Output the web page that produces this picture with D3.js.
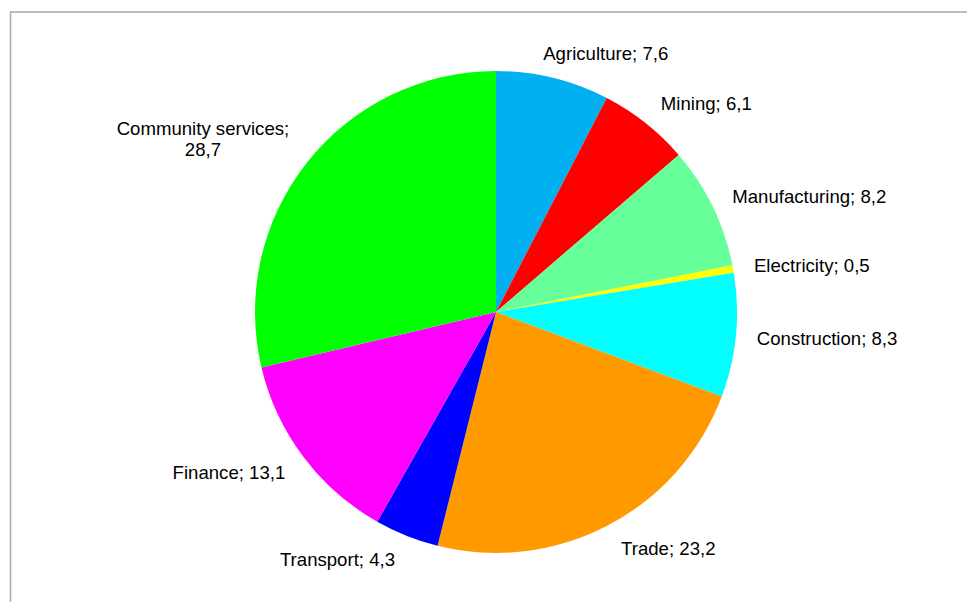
<!DOCTYPE html>
<html>
<head>
<meta charset="utf-8">
<script src="https://cdn.jsdelivr.net/npm/d3@7"></script>
<style>
  html, body { margin: 0; padding: 0; background: #fff; }
  svg { display: block; }
</style>
</head>
<body>
<svg id="chart" width="967" height="602"></svg>
<script>
// Sector shares of the economy, percent
const sectors = ["Agriculture", "Mining", "Manufacturing", "Electricity", "Construction",
                 "Trade", "Transport", "Finance", "Community services"];
const shares  = [7.6, 6.1, 8.2, 0.5, 8.3, 23.2, 4.3, 13.1, 28.7];
const labelText = ["7,6", "6,1", "8,2", "0,5", "8,3", "23,2", "4,3", "13,1", "28,7"];
const sliceColors = ["#00B0F0", "#FF0000", "#66FF99", "#FFFF00", "#00FFFF",
                     "#FF9900", "#0000FF", "#FF00FF", "#00FF00"];

const svg = d3.select("#chart");
const W = 967, H = 602;
const cx = 496, cy = 312, radius = 241;

// frame lines along the top and left edges
svg.append("path")
  .attr("d", `M10.5,${H} L10.5,12 L${W},12`)
  .attr("fill", "none")
  .attr("stroke", "#a8a8a8")
  .attr("stroke-width", 1.5);

const rows = sectors.map((s, i) => ({ name: s, value: shares[i], text: labelText[i], color: sliceColors[i] }));

const pie = d3.pie().sort(null).value(d => d.value);
const arc = d3.arc().innerRadius(0).outerRadius(radius);
const arcs = pie(rows);

const g = svg.append("g").attr("transform", `translate(${cx},${cy})`);

g.selectAll("path.slice")
  .data(arcs)
  .join("path")
  .attr("class", "slice")
  .attr("d", arc)
  .attr("fill", d => d.data.color);

// Labels sit just outside the rim, on the mid-angle of each slice
const labelR = radius + 15;
const lineH = 21, fontSize = 18.6, gap = 6;

const labels = svg.append("g")
  .attr("font-family", "'Liberation Sans', Arial, sans-serif")
  .attr("font-size", fontSize)
  .attr("fill", "#000");

arcs.forEach(d => {
  const a = (d.startAngle + d.endAngle) / 2;
  const sx = Math.sin(a), cyA = Math.cos(a);
  const px = cx + labelR * sx;
  const py = cy - labelR * cyA;
  const right = sx >= 0;
  const lines = d.data.name === "Community services"
    ? [d.data.name + ";", d.data.text]
    : [d.data.name + "; " + d.data.text];

  const t = labels.append("text").attr("text-anchor", "middle");
  lines.forEach((ln, i) => t.append("tspan").text(ln));
  // measure widest line
  const w = d3.max(t.selectAll("tspan").nodes(), n => n.getComputedTextLength());
  const textH = lines.length * lineH;
  const boxH = textH + (lines.length - 1) * 6;

  // labels near the top are pulled toward being centred over the slice
  const centring = Math.max(0, Math.abs(cyA) - 0.93) / 0.07 * 0.26;
  const left = right ? px + gap - w * centring : px - gap - w + w * centring;
  const midY = py - (boxH / 2) * cyA;
  const boxCx = left + w / 2;

  t.selectAll("tspan")
    .attr("x", boxCx)
    .attr("y", (_, i) => midY - textH / 2 + lineH / 2 + i * lineH + 7);
});
</script>
</body>
</html>
